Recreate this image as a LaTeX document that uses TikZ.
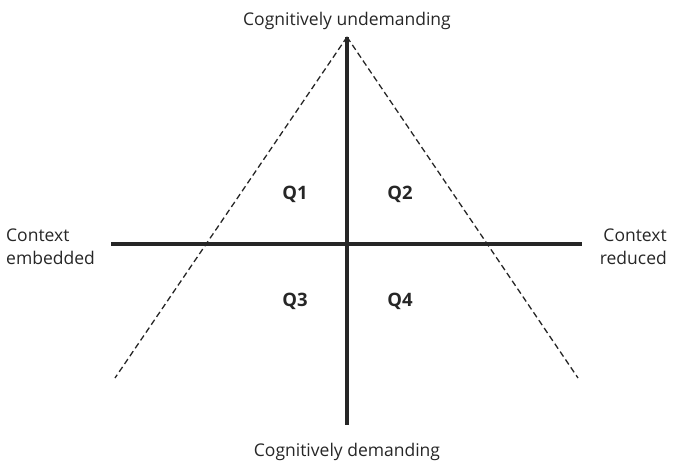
\documentclass[tikz,border=0pt]{standalone}
\usepackage{fontspec}
\setmainfont{Open Sans}
\begin{document}
\begin{tikzpicture}[x=1pt,y=-1pt,
  axis/.style={line width=3.2pt, draw=black!85},
  dashline/.style={line width=1.3pt, draw=black!85, dash pattern=on 6pt off 3.5pt},
  lbl/.style={font=\fontsize{17.5}{23}\selectfont, text=black!85, inner sep=0pt},
  quad/.style={font=\fontsize{18.5}{22}\selectfont\bfseries, text=black!85, inner sep=0pt, anchor=base}]
\useasboundingbox (0,0) rectangle (673,463);
\coordinate (apex) at (347,37);
\coordinate (bot) at (347,425);
\coordinate (left) at (111,244);
\coordinate (right) at (582,244);
\coordinate (dl) at (115,378);
\coordinate (dr) at (578,378);
\draw[axis] (apex) -- (bot);
\draw[axis] (left) -- (right);
\draw[dashline] (apex) -- (dl);
\draw[dashline] (apex) -- (dr);
\node[lbl, anchor=base] (top) at (347,25) {Cognitively undemanding};
\node[lbl, anchor=base] (bottom) at (347,456) {Cognitively demanding};
\node[lbl, anchor=west, align=left] (ce) at (6,247) {Context\\embedded};
\node[lbl, anchor=east, align=right] (cr) at (667,247) {Context\\reduced};
\node[quad] (q1) at (295,199) {Q1};
\node[quad] (q2) at (400,199) {Q2};
\node[quad] (q3) at (295,306) {Q3};
\node[quad] (q4) at (400,306) {Q4};
\end{tikzpicture}
\end{document}
